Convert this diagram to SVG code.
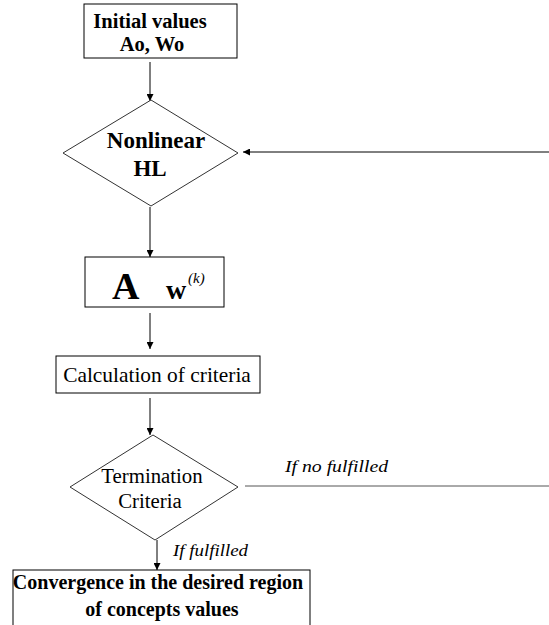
<svg xmlns="http://www.w3.org/2000/svg" width="549" height="625" viewBox="0 0 549 625">
<style>
.box{fill:#fff;stroke:#000;stroke-width:1}
.dia{fill:#fff;stroke:#333;stroke-width:1}
.ln{stroke:#000;stroke-width:1;fill:none}
.t{font-family:"Liberation Serif","Times New Roman","DejaVu Serif",serif;fill:#000}
.b{font-weight:bold}
.i{font-style:italic}
</style>
<defs>
<marker id="ah" viewBox="0 0 10 10" refX="10" refY="5" markerWidth="8" markerHeight="7" markerUnits="userSpaceOnUse" orient="auto">
<path d="M0,0 L10,5 L0,10 z" fill="#000"/>
</marker>
</defs>
<rect width="549" height="625" fill="#fff"/>
<g id="connectors">
<line class="ln" x1="150" y1="62" x2="150" y2="101" marker-end="url(#ah)"/>
<line class="ln" x1="549" y1="152" x2="243" y2="152" marker-end="url(#ah)"/>
<line class="ln" x1="150" y1="207" x2="150" y2="257" marker-end="url(#ah)"/>
<line class="ln" x1="150" y1="313" x2="150" y2="349" marker-end="url(#ah)"/>
<line class="ln" x1="150" y1="398" x2="150" y2="435" marker-end="url(#ah)"/>
<line class="ln" x1="245" y1="486" x2="549" y2="486" style="stroke:#555"/>
<line class="ln" x1="157" y1="540" x2="157" y2="570" marker-end="url(#ah)"/>
<text class="t i" x="285" y="472" font-size="16" textLength="103" lengthAdjust="spacingAndGlyphs">If no fulfilled</text>
<text class="t i" x="173" y="556" font-size="16" textLength="75" lengthAdjust="spacingAndGlyphs">If fulfilled</text>
</g>
<g id="n1">
<rect class="box" x="84" y="4" width="153" height="54"/>
<text class="t b" x="150" y="28" font-size="20.5" text-anchor="middle">Initial values</text>
<text class="t b" x="152" y="51" font-size="20.5" text-anchor="middle">Ao, Wo</text>
</g>
<g id="n2">
<polygon class="dia" points="151,100 238,153 151,206 63,153"/>
<text class="t b" x="156" y="148" font-size="23" text-anchor="middle">Nonlinear</text>
<text class="t b" x="150" y="176" font-size="23" text-anchor="middle">HL</text>
</g>
<g id="n3">
<rect class="box" x="85" y="257" width="139" height="50"/>
<text class="t b" x="112" y="299" font-size="38">A</text>
<text class="t b" x="166" y="299" font-size="28">w</text>
<text class="t i" x="188" y="283" font-size="15">(k)</text>
</g>
<g id="n4">
<rect class="box" x="56" y="356" width="204" height="37"/>
<text class="t" x="157" y="382" font-size="21.4" text-anchor="middle">Calculation of criteria</text>
</g>
<g id="n5">
<polygon class="dia" points="153,435 238,487 155,540 70,487"/>
<text class="t" x="152" y="483" font-size="20.8" text-anchor="middle">Termination</text>
<text class="t" x="150" y="508" font-size="20.8" text-anchor="middle">Criteria</text>
</g>
<g id="n6">
<rect class="box" x="13" y="570" width="297" height="70"/>
<text class="t b" x="158" y="589" font-size="20" text-anchor="middle">Convergence in the desired region</text>
<text class="t b" x="162" y="616" font-size="20" text-anchor="middle">of concepts values</text>
</g>
</svg>
